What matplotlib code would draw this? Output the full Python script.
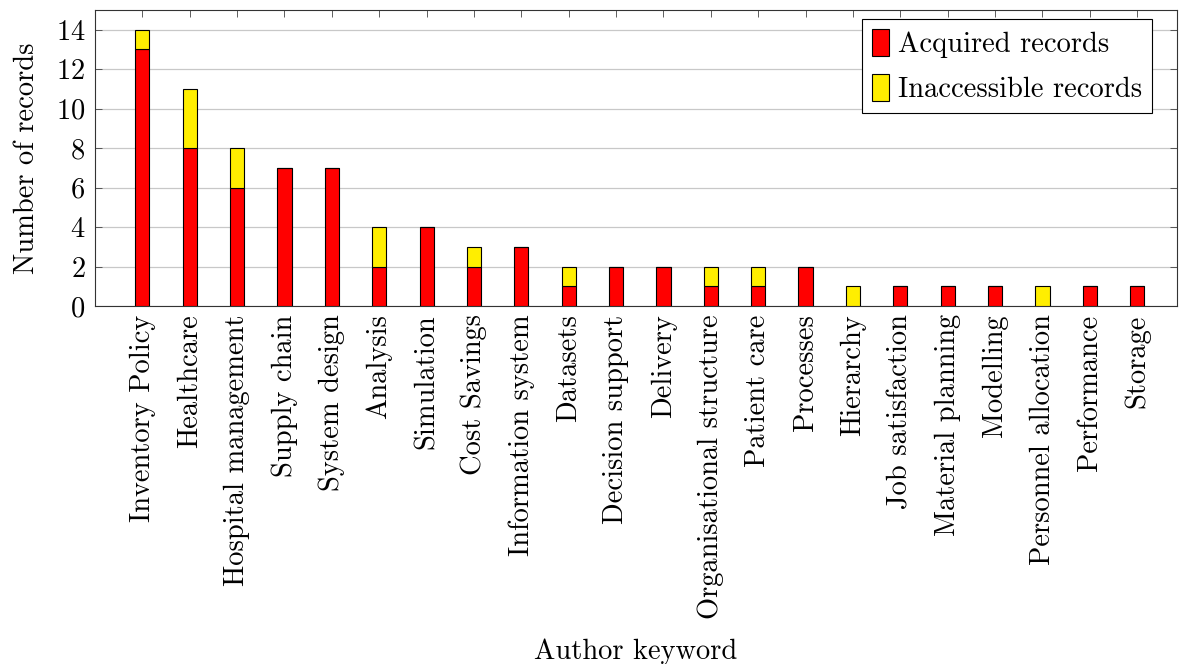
import numpy as np
import matplotlib
matplotlib.use("Agg")
import matplotlib.pyplot as plt

# Keyword counts, split into acquired and inaccessible records
keywords = [
    "Inventory Policy", "Healthcare", "Hospital management", "Supply chain",
    "System design", "Analysis", "Simulation", "Cost Savings",
    "Information system", "Datasets", "Decision support", "Delivery",
    "Organisational structure", "Patient care", "Processes", "Hierarchy",
    "Job satisfaction", "Material planning", "Modelling",
    "Personnel allocation", "Performance", "Storage",
]
acquired = [13, 8, 6, 7, 7, 2, 4, 2, 3, 1, 2, 2, 1, 1, 2, 0, 1, 1, 1, 0, 1, 1]
inaccessible = [1, 3, 2, 0, 0, 2, 0, 1, 0, 1, 0, 0, 1, 1, 0, 1, 0, 0, 0, 1, 0, 0]

plt.rcParams["font.family"] = ["cmr10", "DejaVu Serif"]
plt.rcParams["axes.formatter.use_mathtext"] = True
plt.rcParams["mathtext.fontset"] = "cm"

FS = 20.5

fig = plt.figure(figsize=(11.8, 6.64), dpi=100)
ax = fig.add_axes([95 / 1180, 1 - 306 / 664, (1177 - 95) / 1180, (306 - 10) / 664])

x = np.arange(len(keywords))
width = 0.3
ax.bar(x, acquired, width, color="#ff0000", edgecolor="black", linewidth=0.8,
       label="Acquired records", zorder=3)
ax.bar(x, inaccessible, width, bottom=acquired, color="#ffee00",
       edgecolor="black", linewidth=0.8, label="Inaccessible records", zorder=3)

ax.set_xlim(-1, 21.84)
ax.set_ylim(0, 15)
ax.set_yticks(range(0, 15, 2))
ax.set_xticks(x)
ax.set_xticklabels(keywords, rotation=90)
ax.tick_params(axis="both", direction="in", top=True, right=True,
               labelsize=FS, length=5, width=0.6, color="#444444")
ax.tick_params(axis="x", pad=6)
ax.tick_params(axis="y", pad=7)
ax.yaxis.grid(True, color="#c8c8c8", linewidth=0.9, zorder=0)
ax.set_axisbelow(True)
for s in ax.spines.values():
    s.set_linewidth(0.8)
    s.set_color("#333333")

ax.set_ylabel("Number of records", fontsize=FS, labelpad=11)
ax.set_xlabel("Author keyword", fontsize=FS, labelpad=14)

leg = ax.legend(loc="upper right", fontsize=FS, fancybox=False, framealpha=1,
                edgecolor="black", handlelength=0.6, handleheight=1.1,
                handletextpad=0.3, borderpad=0.35, labelspacing=0.55,
                borderaxespad=0, bbox_to_anchor=(0.977, 0.97))
leg.get_frame().set_linewidth(0.8)

fig.savefig("out.png", dpi=100)
